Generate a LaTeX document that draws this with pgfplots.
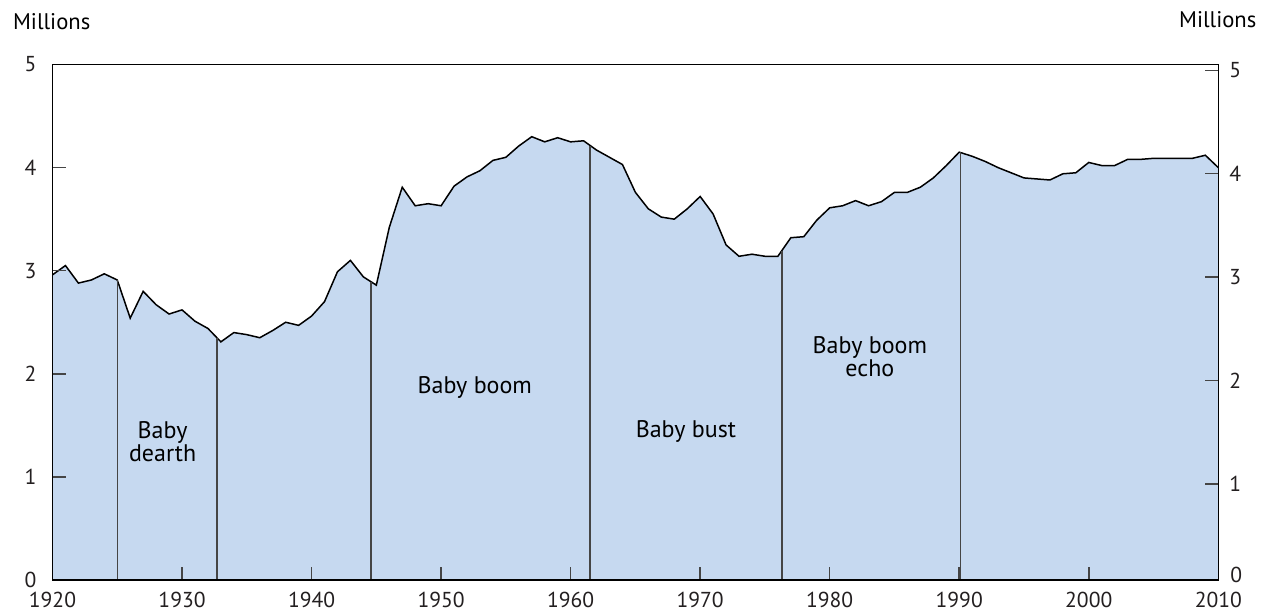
\documentclass[border=0pt]{standalone}
\usepackage{pgfplots}
\pgfplotsset{compat=1.18}
\usepackage{pgfplotstable}
\usepackage{fontspec}
\setmainfont{PT Sans}

\definecolor{areafill}{HTML}{C6D9F0}
\definecolor{divline}{HTML}{454545}
\definecolor{txt}{HTML}{231F20}

\pgfplotstableread{
year births
1920 2.96
1921 3.05
1922 2.88
1923 2.91
1924 2.97
1925 2.91
1926 2.54
1927 2.80
1928 2.67
1929 2.58
1930 2.62
1931 2.51
1932 2.44
1933 2.31
1934 2.40
1935 2.38
1936 2.35
1937 2.42
1938 2.50
1939 2.47
1940 2.56
1941 2.70
1942 2.99
1943 3.10
1944 2.94
1945 2.86
1946 3.42
1947 3.81
1948 3.63
1949 3.65
1950 3.63
1951 3.82
1952 3.91
1953 3.97
1954 4.07
1955 4.10
1956 4.21
1957 4.30
1958 4.25
1959 4.29
1960 4.25
1961 4.26
1962 4.17
1963 4.10
1964 4.03
1965 3.76
1966 3.60
1967 3.52
1968 3.50
1969 3.60
1970 3.72
1971 3.55
1972 3.25
1973 3.14
1974 3.16
1975 3.14
1976 3.14
1977 3.32
1978 3.33
1979 3.49
1980 3.61
1981 3.63
1982 3.68
1983 3.63
1984 3.67
1985 3.76
1986 3.76
1987 3.81
1988 3.90
1989 4.02
1990 4.15
1991 4.11
1992 4.06
1993 4.00
1994 3.95
1995 3.90
1996 3.89
1997 3.88
1998 3.94
1999 3.95
2000 4.05
2001 4.02
2002 4.02
2003 4.08
2004 4.08
2005 4.09
2006 4.09
2007 4.09
2008 4.09
2009 4.12
2010 4.00
}\births

\begin{document}
\begin{tikzpicture}[font=\fontsize{10.8}{12}\selectfont\color{txt}]
\path[use as bounding box] (-26.25pt,-16pt) rectangle (604.75pt,290pt);
\begin{axis}[
    at={(0,0)}, anchor=south west,
    scale only axis,
    width=582.9pt, height=257.75pt,
    xmin=1920, xmax=2010, ymin=0, ymax=5,
    xtick={1920,1930,...,2010},
    ytick={0,1,...,5},
    xtick pos=bottom, ytick pos=left,
    tick align=inside,
    major tick length=6.5pt,
    tick style={draw=divline, line width=0.75pt},
    axis line style={line width=0.75pt},
    /pgf/number format/assume math mode=true,
    /pgf/number format/1000 sep={},
    xticklabel style={yshift=-2.5pt},
    yticklabel style={xshift=-4.5pt},
    axis on top,
]
\addplot[fill=areafill, draw=none] table[x=year, y=births] {\births} \closedcycle;
\addplot[black, line width=0.75pt] table[x=year, y=births] {\births};
% period dividers
\addplot[divline, line width=0.75pt] coordinates {(1925,0) (1925,2.91)};
\addplot[divline, line width=0.75pt] coordinates {(1932.7,0) (1932.7,2.35)};
\addplot[divline, line width=0.75pt] coordinates {(1944.6,0) (1944.6,2.89)};
\addplot[divline, line width=0.75pt] coordinates {(1961.5,0) (1961.5,4.21)};
\addplot[divline, line width=0.75pt] coordinates {(1976.3,0) (1976.3,3.19)};
\addplot[divline, line width=0.75pt] coordinates {(1990.1,0) (1990.1,4.15)};
\node[align=center, font=\fontsize{12}{11.5}\selectfont] at (axis cs:1928.5,1.34) {Baby\\dearth};
\node[font=\fontsize{12}{11.5}\selectfont] at (axis cs:1952.6,1.87) {Baby boom};
\node[font=\fontsize{12}{11.5}\selectfont] at (axis cs:1968.9,1.44) {Baby bust};
\node[align=center, font=\fontsize{12}{11.5}\selectfont] at (axis cs:1983.1,2.17) {Baby boom\\echo};
\end{axis}
\begin{axis}[
    at={(0,0)}, anchor=south west,
    scale only axis,
    width=582.9pt, height=257.75pt,
    xmin=1920, xmax=2010, ymin=0.069, ymax=5.057,
    hide x axis,
    axis y line*=right,
    ytick={1,2,3,4,5},
    tick align=inside,
    major tick length=6.5pt,
    tick style={draw=divline, line width=0.75pt},
    axis line style={line width=0.75pt},
    /pgf/number format/assume math mode=true,
    yticklabel style={xshift=2pt},
]
\end{axis}
\node[anchor=west] at (585.4pt,2.5pt) {0};
\node[anchor=west, inner sep=0pt, font=\fontsize{11.3}{12}\selectfont] at (-19.9pt,279.2pt) {Millions};
\node[anchor=east, inner sep=0pt, font=\fontsize{11.3}{12}\selectfont] at (602.1pt,280pt) {Millions};
\end{tikzpicture}
\end{document}
